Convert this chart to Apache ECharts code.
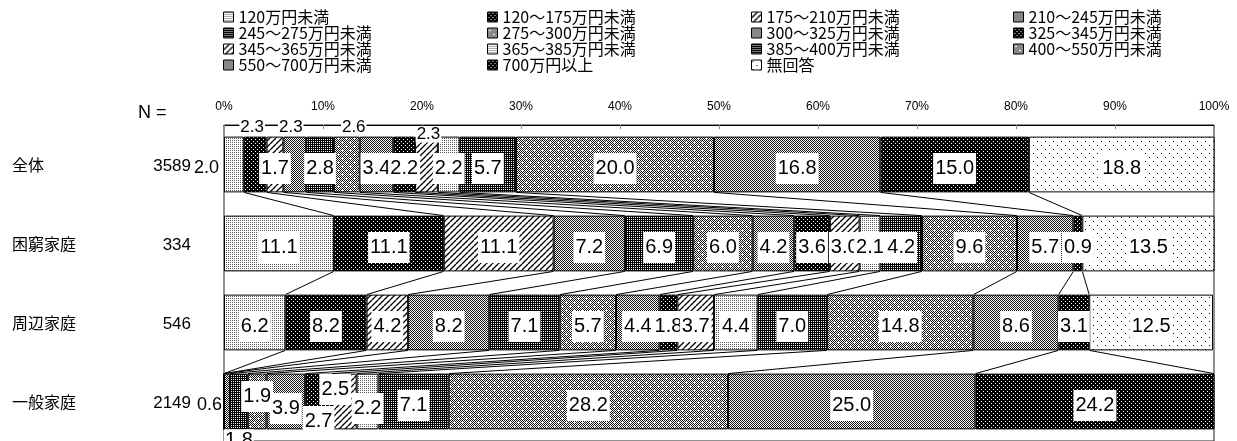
<!DOCTYPE html>
<html>
<head>
<meta charset="utf-8">
<title>世帯収入の分布</title>
<style>
  html, body { margin: 0; padding: 0; background: #fff; }
  #chart { width: 1237px; height: 441px; }
</style>
<script src="https://cdn.jsdelivr.net/npm/echarts@6/dist/echarts.min.js"></script>
</head>
<body>
<div id="chart"></div>
<script>
// 凡例（所得階層）
const categories = [
  '120万円未満', '120～175万円未満', '175～210万円未満', '210～245万円未満',
  '245～275万円未満', '275～300万円未満', '300～325万円未満', '325～345万円未満',
  '345～365万円未満', '365～385万円未満', '385～400万円未満', '400～550万円未満',
  '550～700万円未満', '700万円以上', '無回答'
]
const rowNames = ['全体', '困窮家庭', '周辺家庭', '一般家庭']
const rowN = [3589, 334, 546, 2149]

// 各行の構成比（%）
const zentai = [2.0, 2.3, 1.7, 2.3, 2.8, 2.6, 3.4, 2.2, 2.3, 2.2, 5.7, 20.0, 16.8, 15.0, 18.8]
const konkyu = [11.1, 11.1, 11.1, 7.2, 6.9, 6.0, 4.2, 3.6, 3.0, 2.1, 4.2, 9.6, 5.7, 0.9, 13.5]
const shuhen = [6.2, 8.2, 4.2, 8.2, 7.1, 5.7, 4.4, 1.8, 3.7, 4.4, 7.0, 14.8, 8.6, 3.1, 12.5]
const ippan = [0, 0, 0, 0.6, 1.8, 1.9, 3.9, 2.7, 2.5, 2.2, 7.1, 28.2, 25.0, 24.2, 0]

const xTicks = [0, 10, 20, 30, 40, 50, 60, 70, 80, 90, 100]

const rows = [zentai, konkyu, shuhen, ippan]
const NUM = '"Liberation Sans", sans-serif'
const JP = '"Noto Sans CJK JP", sans-serif'
const BAR_RATIO = 0.706 // 棒の太さ（バンド幅に対する比）

// モノクロの網掛けパターン
function pattern (w, h, bg, paint) {
  const c = document.createElement('canvas')
  c.width = w
  c.height = h
  const g = c.getContext('2d')
  g.fillStyle = bg
  g.fillRect(0, 0, w, h)
  paint(g)
  return { image: c, repeat: 'repeat' }
}
function dots (g, color, pts) {
  g.fillStyle = color
  pts.forEach(p => g.fillRect(p[0], p[1], 1, 1))
}
function checker (g, size) {
  for (let y = 0; y < size; y++) {
    for (let x = 0; x < size; x++) {
      if ((x + y) % 2 === 0) dots(g, '#111', [[x, y]])
    }
  }
}

const fillLight = pattern(2, 2, '#fff', g => dots(g, '#5a5a5a', [[0, 0]]))
const fillBlack = pattern(4, 4, '#000', g => dots(g, '#fff', [[1, 1], [3, 3]]))
const fillDiag = pattern(6, 6, '#fff', g => {
  g.strokeStyle = '#000'
  g.lineWidth = 1.3
  for (let o = -6; o <= 6; o += 6) {
    g.beginPath()
    g.moveTo(o, 6)
    g.lineTo(o + 6, 0)
    g.stroke()
  }
})
const fillGrey = pattern(2, 2, '#fff', g => checker(g, 2))
const fillGrid = pattern(4, 4, '#000', g => dots(g, '#fff', [[1, 1], [3, 1], [1, 3], [3, 3]]))
const fillPlus = pattern(8, 8, '#fff', g => {
  checker(g, 8)
  dots(g, '#fff', [[2, 2], [1, 2], [3, 2], [2, 1], [2, 3], [6, 6], [5, 6], [7, 6], [6, 5], [6, 7]])
})
const fillWhite = pattern(8, 8, '#fff', g => dots(g, '#000', [[1, 1], [5, 5]]))

const fills = [
  fillLight, fillBlack, fillDiag, fillGrey, fillGrid, fillPlus, fillGrey, fillBlack,
  fillDiag, fillLight, fillGrid, fillPlus, fillGrey, fillBlack, fillWhite
]

// 小さい値のラベル位置の個別調整（行-項目）
const topLabel = { position: 'top', distance: 3, fontSize: 17, lineHeight: 16, padding: [0, 1] }
const leftLabel = { position: 'left', distance: 4, fontSize: 18, lineHeight: 18, padding: [0, 1], offset: [0, 4] }
const labelTweaks = {
  '0-0': leftLabel,
  '0-1': { ...topLabel, offset: [-3, 2] },
  '0-3': { ...topLabel, offset: [-4, 2] },
  '0-5': { ...topLabel, offset: [7, 2] },
  '0-8': { ...topLabel, offset: [2, 9] },
  '3-3': { ...leftLabel, distance: 1 },
  '3-4': { position: 'bottom', distance: 0, padding: [0, 1], offset: [0, 0] },
  '3-5': { offset: [0, -5] },
  '3-6': { offset: [0, 7] },
  '3-7': { offset: [0, 20] },
  '3-8': { offset: [-9, -12] },
  '3-9': { offset: [0, 7] }
}

const cum = rows.map(r => {
  let s = 0
  return r.map(v => {
    s += v
    return Math.min(s, 100)
  })
})

const barSeries = categories.map((name, k) => ({
  name,
  type: 'bar',
  stack: 'all',
  barWidth: (BAR_RATIO * 100) + '%',
  itemStyle: { color: fills[k], borderColor: '#000', borderWidth: 1 },
  label: {
    show: true,
    position: 'inside',
    offset: [0, 4],
    formatter: p => p.value.toFixed(1),
    color: '#000',
    backgroundColor: '#fff',
    padding: [5, 2, 4, 2],
    fontFamily: NUM,
    fontSize: 20,
    lineHeight: 22
  },
  data: rows.map((r, ri) => {
    const item = { value: r[k] }
    const t = labelTweaks[ri + '-' + k]
    if (t) item.label = t
    if (!r[k]) item.label = { show: false }
    return item
  })
}))

// 行と行の間の区切り線
const connectorSeries = {
  type: 'custom',
  silent: true,
  z: 1,
  encode: { x: 0, y: 1 },
  data: [[0, 0], [0, 1], [0, 2]],
  renderItem (params, api) {
    const ri = api.value(1)
    const half = api.size([0, 1])[1] * BAR_RATIO / 2
    const children = []
    for (let k = 0; k < categories.length - 1; k++) {
      const a = api.coord([cum[ri][k], ri])
      const b = api.coord([cum[ri + 1][k], ri + 1])
      children.push({
        type: 'line',
        shape: { x1: a[0], y1: a[1] + half, x2: b[0], y2: b[1] - half },
        style: { stroke: '#000', lineWidth: 1 }
      })
    }
    return { type: 'group', children }
  }
}

const legendCols = [[0, 4, 8, 12], [1, 5, 9, 13], [2, 6, 10, 14], [3, 7, 11]]
const legendLeft = [223, 487, 751, 1013]

const chart = echarts.init(document.getElementById('chart'))
chart.setOption({
  animation: false,
  title: {
    text: 'N =',
    left: 138,
    top: 104,
    padding: 0,
    textStyle: { fontFamily: NUM, fontSize: 18, fontWeight: 'normal', color: '#000' }
  },
  legend: legendCols.map((col, i) => ({
    orient: 'vertical',
    left: legendLeft[i],
    top: 9,
    padding: 0,
    itemGap: 0,
    itemWidth: 10,
    itemHeight: 10,
    icon: 'rect',
    selectedMode: false,
    itemStyle: { borderColor: '#000', borderWidth: 1 },
    textStyle: { fontFamily: JP, fontSize: 16, lineHeight: 14.5, color: '#000' },
    data: col.map(k => categories[k])
  })),
  grid: {
    left: 224,
    right: 23,
    top: 125,
    bottom: -7,
    show: true,
    borderColor: '#222',
    borderWidth: 1,
    backgroundColor: 'transparent'
  },
  xAxis: {
    type: 'value',
    position: 'top',
    min: xTicks[0],
    max: xTicks[xTicks.length - 1],
    interval: xTicks[1] - xTicks[0],
    axisLine: { show: true, lineStyle: { color: '#000' } },
    axisTick: { show: true, inside: true, length: 4, lineStyle: { color: '#888' } },
    splitLine: { show: false },
    axisLabel: {
      formatter: '{value}%',
      margin: 12,
      fontFamily: NUM,
      fontSize: 12,
      color: '#000'
    }
  },
  yAxis: {
    type: 'category',
    inverse: true,
    data: rowNames,
    axisLine: { show: false },
    axisTick: { show: false },
    axisLabel: {
      margin: 33,
      formatter: (v, i) => `{a|${v}}{b|${rowN[i]}}`,
      rich: {
        a: { width: 131, align: 'left', fontFamily: JP, fontSize: 16, color: '#000' },
        b: { width: 48, align: 'right', fontFamily: NUM, fontSize: 17, color: '#000', padding: [4, 0, 0, 0] }
      }
    }
  },
  series: [connectorSeries, ...barSeries]
})
</script>
</body>
</html>
